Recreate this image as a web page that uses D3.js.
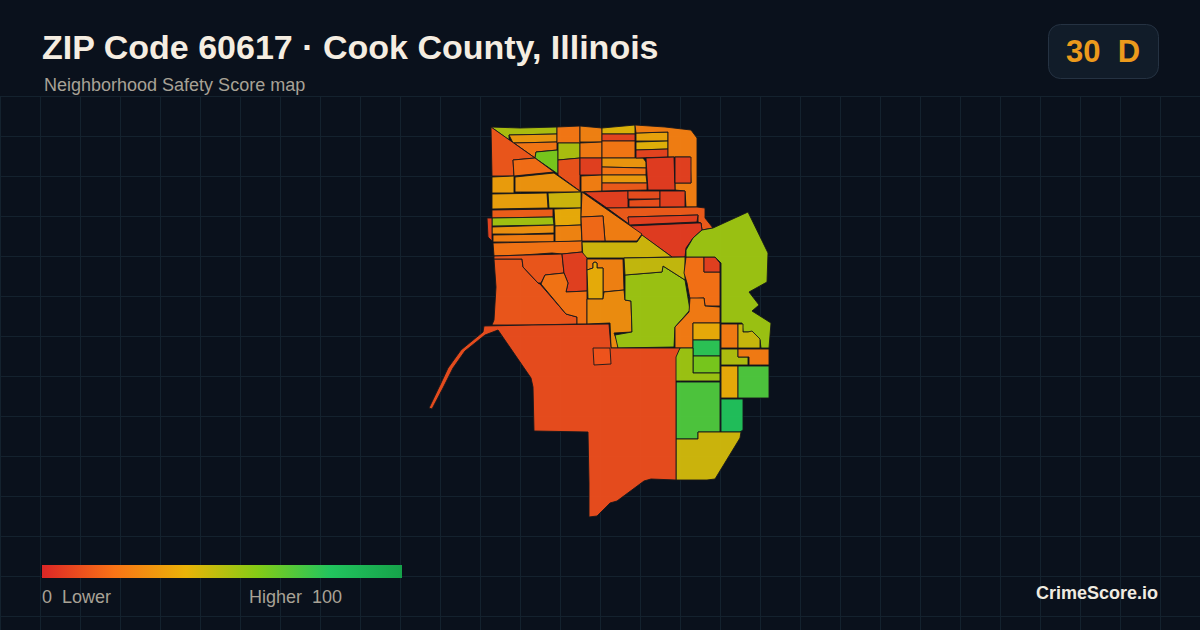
<!DOCTYPE html>
<html>
<head>
<meta charset="utf-8">
<title>ZIP Code 60617</title>
<script src="https://cdn.jsdelivr.net/npm/d3@7"></script>
<style>
  html, body { margin: 0; padding: 0; background: #0a111c; }
  svg { display: block; }
  text { font-family: "Liberation Sans", Arial, sans-serif; }
</style>
</head>
<body>
<div id="chart-area"></div>
<script>
const titleText = "ZIP Code 60617 · Cook County, Illinois";
const subtitleText = "Neighborhood Safety Score map";
const overallScore = "30";
const overallGrade = "D";
const brandText = "CrimeScore.io";

const legendStops = [0, 20, 40, 60, 80, 100];
const legendColors = ["#dc2626", "#f97316", "#eab308", "#84cc16", "#22c55e", "#16a34a"];

// safety score per tract, same order as tractRings
const tractScores = [
  52, 32, 22, 62, 22, 52, 12, 25, 23, 7, 24,
  42, 8, 22, 32, 22, 33, 14, 36, 41, 8, 24, 6, 7,
  7, 10, 11, 7, 14, 7, 6,
  13, 19, 34, 31, 35, 45, 15, 54, 30, 24, 38, 26, 21, 8,
  24, 18, 45,
  13, 13, 7, 21, 25, 39, 29, 55, 47, 20, 7, 23,
  38, 78, 62, 55, 71, 82, 45, 10, 12, 55,
  23, 46, 51, 23, 38, 71
];

// tract outlines, in map grid units
const tractRings = [
  [[91,27],[120,28],[157,27],[157,34],[109,35],[109,40]],
  [[109,35],[157,34],[157,42],[113,43]],
  [[114,43],[157,42],[157,50],[136,52],[135,58]],
  [[136,52],[158,50],[158,74],[135,58]],
  [[157,27],[180,26],[180,43],[157,43]],
  [[158,43],[180,43],[180,58],[158,60]],
  [[158,60],[180,58],[180,91],[158,75]],
  [[180,26],[202,28],[202,42],[180,42]],
  [[180,43],[202,42],[202,58],[180,58]],
  [[180,58],[202,58],[202,75],[180,75]],
  [[181,76],[202,75],[202,91],[181,92]],

  [[202,28],[235,25],[235,34],[202,34]],
  [[202,34],[235,34],[235,41],[202,41]],
  [[202,41],[235,41],[235,58],[202,58]],
  [[202,58],[243,58],[246,62],[246,68],[202,67]],
  [[202,67],[246,68],[246,75],[202,75]],
  [[202,75],[246,75],[247,83],[202,83]],
  [[202,83],[247,83],[247,90],[202,91]],
  [[236,33],[268,32],[268,41],[236,41]],
  [[236,42],[268,41],[268,49],[236,50]],
  [[236,50],[268,49],[268,57],[236,58]],
  [[235,25],[265,27],[291,30],[297,38],[297,107],[286,107],[285,91],[275,90],[275,83],[291,83],[290,57],[268,57],[268,32],[236,33]],
  [[246,58],[274,57],[275,90],[248,90],[247,75]],
  [[275,57],[291,57],[291,83],[275,83]],

  [[184,92],[228,91],[228,108],[207,108]],
  [[228,91],[260,91],[260,99],[228,99]],
  [[229,100],[260,99],[260,107],[229,107]],
  [[260,91],[285,91],[285,107],[260,107]],
  [[207,108],[297,107],[305,108],[305,118],[313,128],[302,130],[301,123],[298,122],[298,115],[228,117],[229,124]],
  [[228,117],[298,115],[297,122],[229,125]],
  [[229,126],[297,123],[301,123],[302,130],[293,138],[286,148],[285,157],[272,157]],

  [[91,27],[135,58],[113,60],[114,76],[92,76]],
  [[113,60],[135,58],[154,72],[114,76]],
  [[92,77],[114,76],[114,93],[92,93]],
  [[115,77],[154,73],[181,92],[147,92],[115,92]],
  [[92,94],[147,93],[148,108],[92,109]],
  [[148,93],[181,92],[181,108],[149,108]],
  [[92,110],[153,109],[153,117],[92,118]],
  [[92,118],[153,117],[154,125],[92,126]],
  [[92,127],[154,125],[154,133],[123,134],[92,134]],
  [[93,135],[154,134],[154,142],[93,142]],
  [[154,109],[181,108],[181,125],[155,126]],
  [[155,126],[181,125],[182,141],[155,142]],
  [[93,143],[182,141],[182,152],[162,154],[152,153],[123,155],[94,156]],
  [[87,118],[92,118],[92,141],[88,137]],

  [[182,92],[181,117],[203,116],[205,141],[237,141],[242,134]],
  [[181,117],[203,116],[205,141],[182,141]],
  [[182,142],[237,142],[242,135],[272,157],[223,158],[187,158],[183,158]],

  [[94,159],[122,159],[123,167],[138,183],[140,184],[166,214],[177,217],[177,224],[133,225],[92,225],[94,220],[96,187]],
  [[94,156],[162,154],[164,173],[145,175],[141,183],[138,183],[123,167],[122,159],[94,159]],
  [[162,154],[182,152],[187,158],[187,191],[166,192],[168,183],[164,173]],
  [[145,175],[164,173],[168,183],[166,192],[187,191],[187,224],[177,224],[177,217],[166,214],[141,184]],
  [[187,159],[223,159],[224,190],[203,192],[203,168],[197,168],[197,163],[195,162],[193,163],[193,168],[187,170]],
  [[187,170],[193,168],[193,163],[195,162],[197,163],[197,168],[203,168],[203,199],[188,199]],
  [[187,199],[203,199],[204,192],[224,190],[225,200],[231,201],[232,232],[214,233],[218,243],[218,248],[211,248],[210,223],[187,224]],
  [[225,175],[262,172],[263,166],[285,180],[290,210],[275,227],[274,247],[218,248],[215,235],[232,232],[231,201],[225,200]],
  [[224,158],[285,157],[285,180],[263,166],[262,172],[225,175]],
  [[286,157],[304,157],[304,172],[320,172],[320,206],[305,206],[304,198],[290,199],[287,183],[284,173]],
  [[304,157],[315,157],[320,163],[320,172],[304,172]],
  [[290,198],[304,198],[305,206],[320,207],[320,223],[293,223],[293,248],[275,248],[275,227],[289,212]],

  [[293,223],[320,223],[320,240],[293,240]],
  [[293,240],[320,240],[320,256],[293,256]],
  [[293,256],[320,256],[320,273],[293,273]],
  [[280,248],[293,248],[293,273],[320,273],[320,281],[275,281],[275,256]],
  [[276,282],[320,282],[320,332],[309,332],[298,332],[298,339],[276,339]],
  [[321,299],[343,299],[343,330],[340,332],[321,332]],
  [[276,339],[298,339],[298,332],[309,332],[341,332],[340,338],[315,379],[307,380],[276,380]],
  [[84,226],[133,225],[209,224],[211,248],[280,248],[276,257],[276,380],[251,379],[244,381],[217,401],[210,403],[197,416],[189,417],[189,383],[188,332],[134,331],[133,287],[131,278],[98,230],[85,235],[65,251],[53,268],[43,288],[32,309],[29,308],[41,283],[48,268],[61,250],[83,232]],
  [[193,248],[210,248],[211,264],[194,265]],
  [[348,112],[368,153],[367,182],[349,192],[359,205],[352,211],[371,223],[369,248],[361,248],[360,240],[352,232],[343,232],[342,223],[321,223],[321,163],[315,157],[286,157],[286,150],[293,138],[302,130],[313,128]],

  [[321,224],[338,224],[338,248],[321,248]],
  [[338,224],[343,224],[343,232],[348,232],[352,231],[360,239],[360,248],[338,248]],
  [[321,249],[338,249],[338,257],[348,257],[348,265],[321,265]],
  [[338,249],[369,249],[369,265],[349,265],[349,257],[338,257]],
  [[321,266],[338,266],[338,298],[321,298]],
  [[338,266],[369,266],[369,298],[338,298]]
];

const bgColor = "#0a111c";
const width = 1200, height = 630;
const gridSize = 40, gridTop = 96;

const svg = d3.select("#chart-area")
    .append("svg")
    .attr("width", width)
    .attr("height", height);

svg.append("rect")
    .attr("width", width)
    .attr("height", height)
    .attr("fill", bgColor);

// grid only below the header
const grid = svg.append("g").attr("stroke", "#14222e").attr("stroke-width", 1);
grid.selectAll("line.v")
    .data(d3.range(0, width, gridSize))
    .enter().append("line")
    .attr("class", "v")
    .attr("x1", d => d + 0.5).attr("x2", d => d + 0.5)
    .attr("y1", gridTop).attr("y2", height);
grid.selectAll("line.h")
    .data(d3.range(gridTop, height, gridSize))
    .enter().append("line")
    .attr("class", "h")
    .attr("x1", 0).attr("x2", width)
    .attr("y1", d => d + 0.5).attr("y2", d => d + 0.5);

// map
const color = d3.scaleLinear().domain(legendStops).range(legendColors);

// geojson rings have to be closed
const tracts = {
  type: "FeatureCollection",
  features: tractRings.map((ring, i) => ({
    type: "Feature",
    properties: { score: tractScores[i] },
    geometry: { type: "Polygon", coordinates: [ring.concat([ring[0]])] }
  }))
};

const projection = d3.geoIdentity().fitExtent([[429, 125], [771, 517]], tracts);
const path = d3.geoPath(projection);

svg.append("g")
    .selectAll("path")
    .data(tracts.features)
    .enter().append("path")
    .attr("d", path)
    .attr("fill", d => color(d.properties.score))
    .attr("fill-opacity", 0.97)
    .attr("stroke", "#16171c")
    .attr("stroke-width", 0.9)
    .attr("stroke-linejoin", "round");

// header
svg.append("text")
    .attr("x", 42).attr("y", 59)
    .attr("font-size", 34)
    .attr("font-weight", "bold")
    .attr("fill", "#f5ede1")
    .text(titleText);

svg.append("text")
    .attr("x", 44).attr("y", 91)
    .attr("font-size", 18)
    .attr("fill", "#a8a296")
    .text(subtitleText);

// score badge
svg.append("rect")
    .attr("x", 1048.5).attr("y", 24.5)
    .attr("width", 110).attr("height", 54)
    .attr("rx", 12)
    .attr("fill", "#111c29")
    .attr("stroke", "#253242");

svg.append("text")
    .attr("x", 1103).attr("y", 62)
    .attr("text-anchor", "middle")
    .attr("font-size", 31)
    .attr("font-weight", "bold")
    .attr("fill", "#ec9a1c")
    .style("white-space", "pre")
    .text(overallScore + "  " + overallGrade);

// legend
const legendX = d3.scaleLinear().domain([0, 100]).range([42, 402]);

const gradient = svg.append("defs").append("linearGradient")
    .attr("id", "legend-gradient");
gradient.selectAll("stop")
    .data(legendStops)
    .enter().append("stop")
    .attr("offset", d => d + "%")
    .attr("stop-color", (d, i) => legendColors[i]);

svg.append("rect")
    .attr("x", legendX(0)).attr("y", 565)
    .attr("width", legendX(100) - legendX(0)).attr("height", 13)
    .attr("fill", "url(#legend-gradient)");

svg.append("text")
    .attr("x", 42).attr("y", 603)
    .attr("font-size", 18)
    .attr("fill", "#a8a296")
    .style("white-space", "pre")
    .text("0  Lower");

svg.append("text")
    .attr("x", 342).attr("y", 603)
    .attr("text-anchor", "end")
    .attr("font-size", 18)
    .attr("fill", "#a8a296")
    .style("white-space", "pre")
    .text("Higher  100");

svg.append("text")
    .attr("x", 1158).attr("y", 599)
    .attr("text-anchor", "end")
    .attr("font-size", 18)
    .attr("font-weight", "bold")
    .attr("fill", "#f0ebe1")
    .text(brandText);
</script>
</body>
</html>
